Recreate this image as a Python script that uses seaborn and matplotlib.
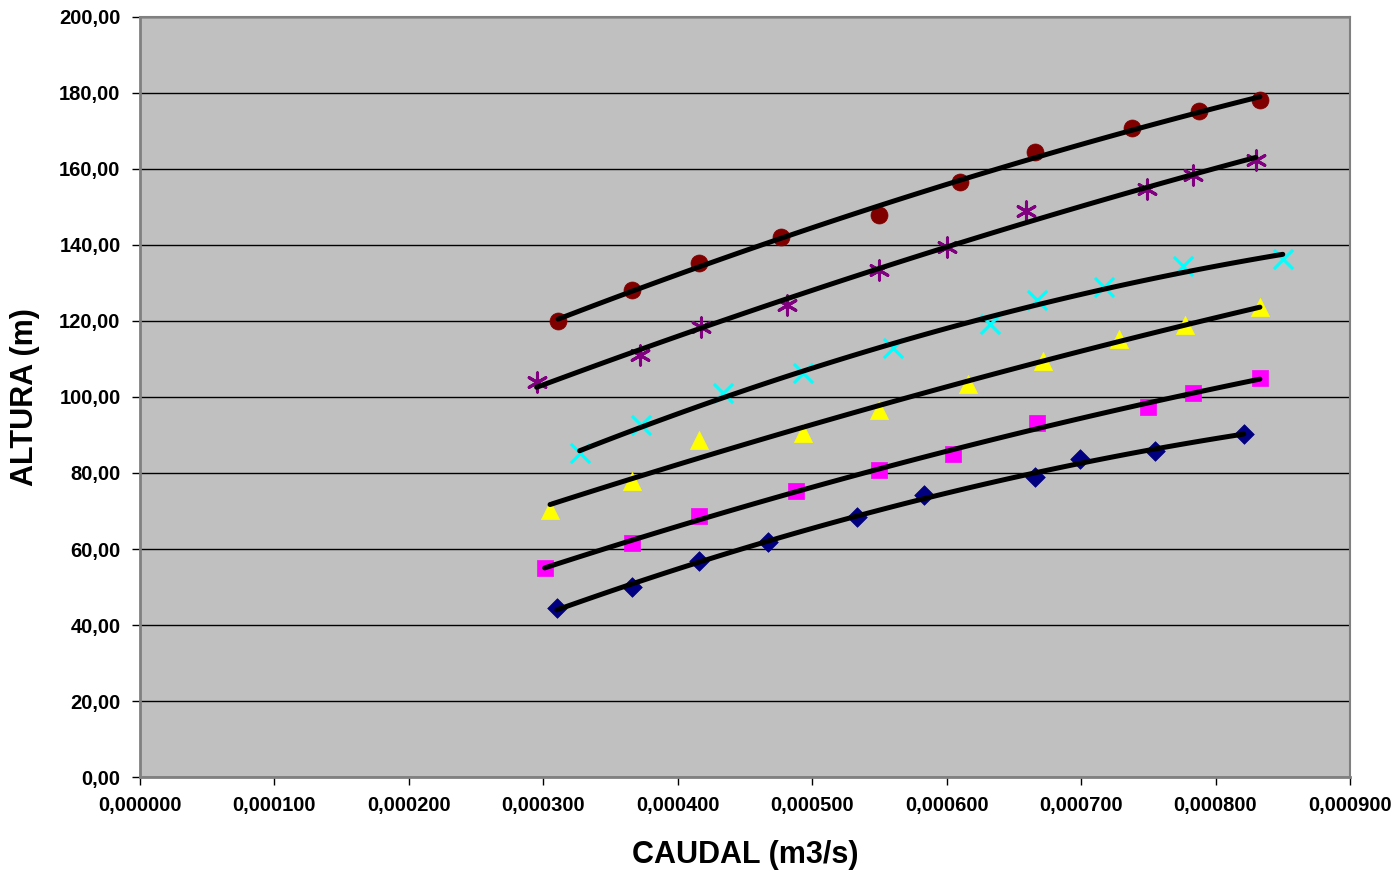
import numpy as np
import pandas as pd
import matplotlib
matplotlib.use("Agg")
import matplotlib.pyplot as plt
from matplotlib.ticker import FuncFormatter, MultipleLocator
import seaborn as sns

# caudal (m3/s) y altura (m) de cada serie
q_circulo = [0.000311, 0.000366, 0.000416, 0.000477, 0.000550, 0.000610, 0.000666, 0.000738, 0.000788, 0.000833]
h_circulo = [120.0, 128.2, 135.3, 142.1, 147.9, 156.6, 164.5, 170.8, 175.3, 178.2]

q_asterisco = [0.000295, 0.000372, 0.000417, 0.000481, 0.000550, 0.000600, 0.000659, 0.000749, 0.000783, 0.000830]
h_asterisco = [103.9, 111.1, 118.4, 124.2, 133.4, 139.5, 148.9, 154.7, 158.4, 162.4]

q_cruz = [0.000327, 0.000373, 0.000434, 0.000493, 0.000560, 0.000632, 0.000667, 0.000717, 0.000776, 0.000850]
h_cruz = [85.3, 92.6, 101.1, 106.3, 112.9, 119.2, 125.5, 128.9, 134.5, 136.3]

q_triangulo = [0.000305, 0.000366, 0.000416, 0.000493, 0.000550, 0.000616, 0.000672, 0.000728, 0.000777, 0.000833]
h_triangulo = [70.3, 77.9, 88.7, 90.5, 96.6, 103.4, 109.5, 115.3, 118.9, 123.7]

q_cuadrado = [0.000301, 0.000366, 0.000416, 0.000488, 0.000550, 0.000605, 0.000667, 0.000750, 0.000783, 0.000833]
h_cuadrado = [55.0, 61.6, 68.7, 75.3, 80.8, 85.0, 93.2, 97.4, 101.1, 105.0]

q_rombo = [0.000310, 0.000366, 0.000416, 0.000467, 0.000533, 0.000583, 0.000666, 0.000699, 0.000755, 0.000821]
h_rombo = [44.5, 50.0, 56.8, 61.8, 68.4, 74.2, 78.9, 83.7, 85.8, 90.3]

series = [
    (q_circulo, h_circulo, "o", "#800000"),
    (q_asterisco, h_asterisco, (6, 2, 0), "#800080"),
    (q_cruz, h_cruz, "x", "#00FFFF"),
    (q_triangulo, h_triangulo, "^", "#FFFF00"),
    (q_cuadrado, h_cuadrado, "s", "#FF00FF"),
    (q_rombo, h_rombo, "D", "#000080"),
]
sizes = {"o": 150, "^": 170, "s": 140, "D": 100}

sns.set_style("white")
plt.rcParams["font.family"] = ["Liberation Sans", "DejaVu Sans"]
plt.rcParams["text.color"] = "black"
plt.rcParams["axes.labelcolor"] = "black"
plt.rcParams["xtick.color"] = "black"
plt.rcParams["ytick.color"] = "black"

fig = plt.figure(figsize=(13.97, 8.73), dpi=100)
ax = fig.add_axes([140 / 1397, 96 / 873, 1210 / 1397, 760 / 873])
ax.set_facecolor("#C0C0C0")

for q, h, marker, color in series:
    df = pd.DataFrame({"caudal": q, "altura": h})
    if marker in ("x", (6, 2, 0)):
        sns.scatterplot(data=df, x="caudal", y="altura", marker=marker, s=190,
                        color=color, linewidth=2.2, ax=ax, zorder=3)
    else:
        sns.scatterplot(data=df, x="caudal", y="altura", marker=marker, s=sizes[marker],
                        color=color, edgecolor=color, linewidth=0.5, ax=ax, zorder=3)
    # linea de tendencia polinomica (orden 2)
    sns.regplot(data=df, x="caudal", y="altura", order=2, ci=None, scatter=False,
                truncate=True, color="black", line_kws={"linewidth": 3.6, "zorder": 4,
                                                        "solid_capstyle": "round"}, ax=ax)

ax.set_xlim(0, 0.0009)
ax.set_ylim(0, 200)
ax.xaxis.set_major_locator(MultipleLocator(0.0001))
ax.yaxis.set_major_locator(MultipleLocator(20))
ax.xaxis.set_major_formatter(FuncFormatter(lambda v, p: f"{v:.6f}".replace(".", ",")))
ax.yaxis.set_major_formatter(FuncFormatter(lambda v, p: f"{v:.2f}".replace(".", ",")))

ax.grid(axis="y", color="black", linewidth=1.0)
ax.grid(axis="x", visible=False)
ax.set_axisbelow(True)

for side in ["top", "right"]:
    ax.spines[side].set_color("#808080")
    ax.spines[side].set_linewidth(1.5)
for side in ["left", "bottom"]:
    ax.spines[side].set_color("#808080")
    ax.spines[side].set_linewidth(2.0)

ax.tick_params(axis="both", direction="out", length=6, width=1, color="black",
               labelcolor="black", labelsize=14.5, pad=8, bottom=True, left=True)
for lab in ax.get_xticklabels() + ax.get_yticklabels():
    lab.set_fontweight("bold")

ax.set_xlabel("CAUDAL (m3/s)", fontsize=22, fontweight="bold", labelpad=18, color="black")
ax.set_ylabel("ALTURA (m)", fontsize=22, fontweight="bold", labelpad=14, color="black")

fig.savefig("out.png", dpi=100)
